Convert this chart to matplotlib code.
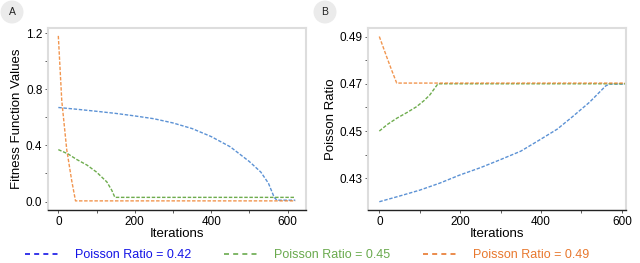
import matplotlib
matplotlib.use("Agg")
import matplotlib.pyplot as plt
from matplotlib.lines import Line2D
from matplotlib.patches import Ellipse

plt.rcParams['font.family'] = ['Liberation Sans', 'DejaVu Sans']

# panel A: fitness function values
fit_x_042 = [0, 50, 100, 150, 200, 250, 300, 350, 400, 450, 500, 530, 550, 565, 572, 620]
fit_y_042 = [0.67, 0.657, 0.643, 0.628, 0.61, 0.59, 0.56, 0.52, 0.463, 0.39, 0.285, 0.21, 0.13, 0.03, 0.01, 0.01]
fit_x_045 = [0, 25, 48, 75, 100, 127, 140, 148, 620]
fit_y_045 = [0.37, 0.34, 0.30, 0.26, 0.21, 0.14, 0.08, 0.03, 0.03]
fit_x_049 = [0, 9, 22, 35, 45, 620]
fit_y_049 = [1.18, 0.72, 0.37, 0.15, 0.005, 0.005]

# panel B: poisson ratio
pr_x_042 = [0, 50, 100, 150, 199, 250, 298, 350, 396, 440, 478, 520, 560, 569, 620]
pr_y_042 = [0.4201, 0.4225, 0.425, 0.428, 0.4314, 0.4345, 0.4378, 0.4415, 0.4462, 0.4508, 0.4561, 0.4622, 0.4691, 0.4699, 0.4699]
pr_x_045 = [0, 20, 43, 70, 92, 110, 125, 145, 620]
pr_y_045 = [0.45, 0.4528, 0.4554, 0.4580, 0.4603, 0.4628, 0.4653, 0.4700, 0.4700]
pr_x_049 = [0, 18, 30, 43, 620]
pr_y_049 = [0.49, 0.4815, 0.4760, 0.4703, 0.4703]

labels = ['Poisson Ratio = 0.42', 'Poisson Ratio = 0.45', 'Poisson Ratio = 0.49']
line_colors = ['#4a86d0', '#5ea33a', '#f08a3c']
legend_colors = ['#1414e6', '#6aaa4e', '#e8782e']

fig = plt.figure(figsize=(6.4, 2.63), dpi=100)
axA = fig.add_axes([0.075, 0.2015, 0.403, 0.692])
axB = fig.add_axes([0.575, 0.2015, 0.403, 0.692])

ls = (0, (2.5, 1.2))
for x, y, c in [(fit_x_042, fit_y_042, line_colors[0]),
                (fit_x_045, fit_y_045, line_colors[1]),
                (fit_x_049, fit_y_049, line_colors[2])]:
    axA.plot(x, y, color=c, lw=1.0, ls=ls, alpha=0.9)
for x, y, c in [(pr_x_042, pr_y_042, line_colors[0]),
                (pr_x_045, pr_y_045, line_colors[1]),
                (pr_x_049, pr_y_049, line_colors[2])]:
    axB.plot(x, y, color=c, lw=1.0, ls=ls, alpha=0.9)

axA.set_xlim(-27, 648)
axA.set_ylim(-0.06, 1.236)
axA.set_yticks([0, 0.4, 0.8, 1.2])
axA.set_yticklabels(['0.0', '0.4', '0.8', '1.2'])
axA.set_yticks([0.2, 0.6, 1.0], minor=True)
axA.set_ylabel('Fitness Function Values', fontsize=9.5, labelpad=2)

axB.set_xlim(-28, 610)
axB.set_ylim(0.4166, 0.4936)
axB.set_yticks([0.43, 0.45, 0.47, 0.49])
axB.set_yticks([0.44, 0.46, 0.48], minor=True)
axB.set_ylabel('Poisson Ratio', fontsize=9.5, labelpad=2)

for ax in (axA, axB):
    ax.set_xticks([0, 200, 400, 600])
    ax.set_xticks([100, 300, 500], minor=True)
    ax.set_xlabel('Iterations', fontsize=9.5, labelpad=0)
    ax.tick_params(labelsize=8.5, length=2, width=0.6, pad=2, color='#444444')
    ax.tick_params(which='minor', length=2, width=0.6, color='#444444')
    for s in ('top', 'right', 'left'):
        ax.spines[s].set_color('#dddddd')
        ax.spines[s].set_linewidth(1.5)
    ax.spines['bottom'].set_color('#222222')
    ax.spines['bottom'].set_linewidth(1.0)

# panel labels
for cx, lab in [(12, 'A'), (325, 'B')]:
    fig.patches.append(Ellipse((cx / 640, 1 - 12 / 263), 23 / 640, 23 / 263,
                               transform=fig.transFigure, facecolor='#ebebeb', edgecolor='none'))
    fig.text(cx / 640, 1 - 12 / 263, lab, ha='center', va='center', fontsize=7.5, color='#222222')

handles = [Line2D([], [], color=c, lw=1.2, ls=(0, (3, 2.5))) for c in legend_colors]
fig.legend(handles, labels, loc='lower left', bbox_to_anchor=(0.022, -0.035), ncol=3,
           frameon=False, fontsize=9, labelcolor=legend_colors, handlelength=2.8,
           handletextpad=1.2, columnspacing=2.6)

fig.savefig('out.png', dpi=100)
